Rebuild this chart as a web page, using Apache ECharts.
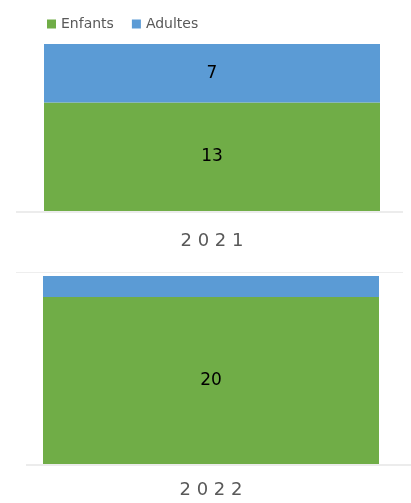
<!DOCTYPE html>
<html>
<head>
<meta charset="utf-8">
<script src="https://cdn.jsdelivr.net/npm/echarts@6/dist/echarts.min.js"></script>
<style>
  html, body { margin: 0; padding: 0; background: #fff; }
  #chart { width: 411px; height: 503px; }
</style>
</head>
<body>
<div id="chart"></div>
<script>
const years = ['2021', '2022']
const enfants = [13, 20]
const adultes = [7, 2.5]

const green = '#70AD47'
const blue = '#5B9BD5'
const font = 'DejaVu Sans'

const chart = echarts.init(document.getElementById('chart'))

// one grid per year, like two stacked Excel charts
const grids = [
  { left: 44, right: 31, top: 44, height: 167 },
  { left: 43, right: 32, top: 276, height: 188 }
]
const margins = [21, 17]

const spaced = s => s.split('').join(' ')

const option = {
  animation: false,
  textStyle: { fontFamily: font },
  legend: {
    left: 42,
    top: 12,
    itemWidth: 9,
    itemHeight: 9,
    itemGap: 18,
    icon: 'rect',
    textStyle: { color: '#595959', fontSize: 14, fontFamily: font },
    data: ['Enfants', 'Adultes']
  },
  grid: grids,
  xAxis: years.map((y, i) => ({
    type: 'category',
    gridIndex: i,
    data: [y],
    axisLine: { show: false },
    axisTick: { show: false },
    axisLabel: {
      margin: margins[i],
      color: '#595959',
      fontSize: 18,
      formatter: spaced
    }
  })),
  yAxis: years.map((y, i) => ({
    type: 'value',
    gridIndex: i,
    show: false,
    min: 0,
    max: enfants[i] + adultes[i]
  })),
  series: [],
  graphic: [
    { type: 'line', shape: { x1: 16, y1: 212, x2: 403, y2: 212 }, style: { stroke: '#d9d9d9', lineWidth: 1 } },
    { type: 'line', shape: { x1: 16, y1: 272.5, x2: 403, y2: 272.5 }, style: { stroke: '#eeeeee', lineWidth: 1 } },
    { type: 'line', shape: { x1: 26, y1: 465, x2: 411, y2: 465 }, style: { stroke: '#d9d9d9', lineWidth: 1 } }
  ]
}

years.forEach((y, i) => {
  option.series.push({
    name: 'Enfants',
    type: 'bar',
    stack: 's' + i,
    xAxisIndex: i,
    yAxisIndex: i,
    barCategoryGap: 0,
    itemStyle: { color: green },
    label: { show: true, color: '#000', fontSize: 17 },
    data: [enfants[i]]
  })
  option.series.push({
    name: 'Adultes',
    type: 'bar',
    stack: 's' + i,
    xAxisIndex: i,
    yAxisIndex: i,
    barCategoryGap: 0,
    itemStyle: { color: blue },
    // the thin 2022 segment carries no label
    label: { show: adultes[i] >= 5, color: '#000', fontSize: 17 },
    data: [adultes[i]]
  })
})

chart.setOption(option)
</script>
</body>
</html>
